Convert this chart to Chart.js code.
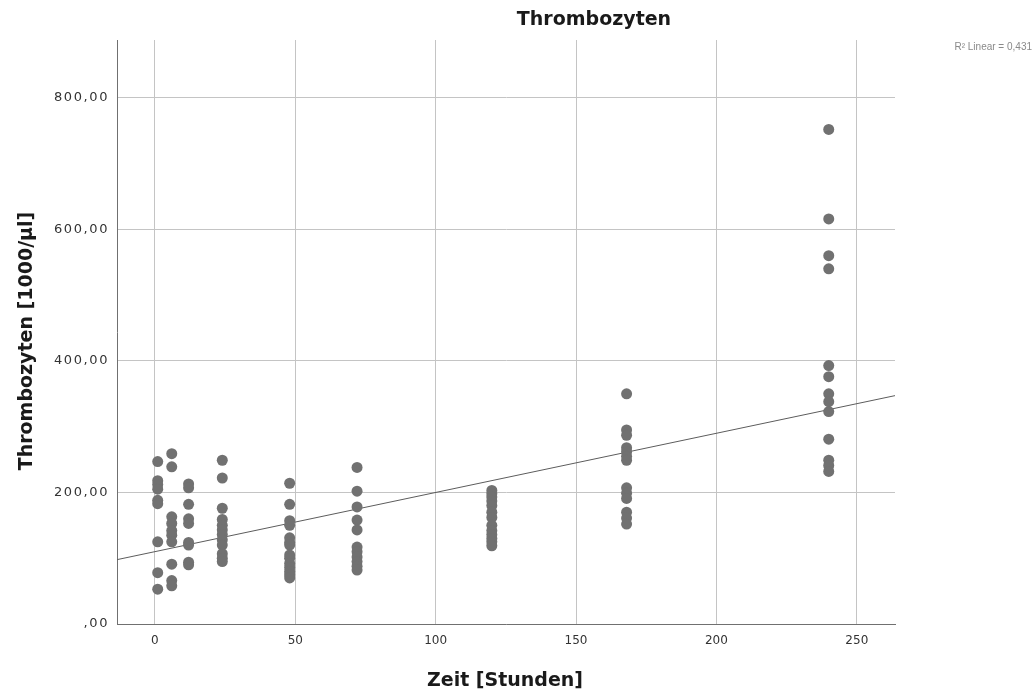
<!DOCTYPE html>
<html>
<head>
<meta charset="utf-8">
<script src="https://cdn.jsdelivr.net/npm/chart.js@4.4.1/dist/chart.umd.min.js"></script>
<style>
  html, body { margin: 0; padding: 0; background: #ffffff; }
  #wrap { width: 1036px; height: 695px; position: relative; }
</style>
</head>
<body>
<div id="wrap"><canvas id="chart" width="1036" height="695"></canvas></div>
<script>
// Sampling times (hours after admission)
const hours = [1, 6, 12, 24, 48, 72, 120, 168, 240];

// Platelet counts [1000/µl] measured at each sampling time
const plateletsAt1h   = [247, 218, 212, 205, 188, 183, 125, 78, 53];
const plateletsAt6h   = [259, 239, 163, 153, 142, 135, 125, 91, 66, 58];
const plateletsAt12h  = [213, 207, 182, 160, 153, 124, 120, 94, 90];
const plateletsAt24h  = [249, 222, 176, 159, 150, 143, 136, 128, 120, 107, 100, 95];
const plateletsAt48h  = [214, 182, 157, 150, 131, 124, 120, 105, 100, 92, 86, 80, 75, 70];
const plateletsAt72h  = [238, 202, 178, 158, 143, 117, 110, 102, 95, 88, 82];
const plateletsAt120h = [203, 198, 193, 187, 180, 170, 162, 150, 142, 136, 130, 125, 119];
const plateletsAt168h = [350, 295, 287, 268, 262, 255, 249, 207, 199, 191, 170, 161, 152];
const plateletsAt240h = [752, 616, 560, 540, 393, 376, 350, 338, 323, 281, 249, 241, 232];

const plateletGroups = [
  plateletsAt1h, plateletsAt6h, plateletsAt12h, plateletsAt24h, plateletsAt48h,
  plateletsAt72h, plateletsAt120h, plateletsAt168h, plateletsAt240h
];

// Linear fit (Thrombozyten = intercept + slope * Zeit)
const fitIntercept = 110;
const fitSlope = 0.9;
const fitLabel = 'R\u00B2 Linear = 0,431';

// Axis ranges and ticks
const xRange = [-13.5, 263.6];
const yRange = [0, 888];
const xTicks = [0, 50, 100, 150, 200, 250];
const xTickLabels = ['0', '50', '100', '150', '200', '250'];
const yTicks = [0, 200, 400, 600, 800];
const yTickLabels = [',00', '200,00', '400,00', '600,00', '800,00'];

const chartTitle = 'Thrombozyten';
const xTitle = 'Zeit [Stunden]';
const yTitle = 'Thrombozyten [1000/\u00B5l]';

const scatterPoints = [];
hours.forEach((h, i) => {
  plateletGroups[i].forEach(v => scatterPoints.push({ x: h, y: v }));
});

const fitPoints = xRange.map(x => ({ x: x, y: fitIntercept + fitSlope * x }));

const boldFont = '"DejaVu Sans", sans-serif';
const tickFont = '"DejaVu Sans", sans-serif';

// Wider letter spacing for the value-axis tick labels
const spacingPlugin = {
  id: 'tickSpacing',
  beforeDraw(chart) {
    const y = chart.scales.y;
    if (y && !y._spaced) {
      const draw = y.drawLabels;
      y.drawLabels = function (area) {
        const ctx = this.ctx;
        ctx.save();
        ctx.letterSpacing = '1.6px';
        draw.call(this, area);
        ctx.restore();
      };
      y._spaced = true;
    }
  }
};

// Titles and fit annotation
const labelsPlugin = {
  id: 'labels',
  afterDraw(chart) {
    const ctx = chart.ctx;
    const area = chart.chartArea;
    ctx.save();
    ctx.letterSpacing = '0px';
    ctx.fillStyle = '#1a1a1a';
    ctx.font = 'bold 19px ' + boldFont;
    ctx.textAlign = 'center';
    ctx.textBaseline = 'middle';
    ctx.fillText(chartTitle, 594, 20);

    ctx.fillText(xTitle, 505, 681);

    ctx.save();
    ctx.translate(27, 341);
    ctx.rotate(-Math.PI / 2);
    ctx.fillText(yTitle, 0, 0);
    ctx.restore();

    ctx.font = '10px "Liberation Sans", sans-serif';
    ctx.fillStyle = '#8a8a8a';
    ctx.textAlign = 'right';
    ctx.fillText(fitLabel, 1032, 47);
    ctx.restore();
  }
};

new Chart(document.getElementById('chart'), {
  type: 'scatter',
  data: {
    datasets: [
      {
        type: 'line',
        data: fitPoints,
        borderColor: '#5c5c5c',
        borderWidth: 1,
        pointRadius: 0,
        fill: false,
        order: 2
      },
      {
        data: scatterPoints,
        backgroundColor: '#717171',
        borderWidth: 0,
        pointRadius: 5.5,
        pointHoverRadius: 5.5,
        order: 1
      }
    ]
  },
  options: {
    responsive: false,
    animation: false,
    layout: { padding: { top: 40, right: 141, bottom: 0, left: 0 } },
    plugins: { legend: { display: false }, tooltip: { enabled: false }, title: { display: false } },
    scales: {
      x: {
        type: 'linear',
        min: xRange[0],
        max: xRange[1],
        afterFit(scale) { scale.height = 71; },
        afterBuildTicks(scale) { scale.ticks = xTicks.map(v => ({ value: v })); },
        ticks: {
          padding: 10,
          color: '#333333',
          font: { family: tickFont, size: 12 },
          callback: (v) => xTickLabels[xTicks.indexOf(v)]
        },
        grid: { color: '#c4c4c4', lineWidth: 1, drawTicks: false },
        border: { color: '#707070', width: 1 }
      },
      y: {
        type: 'linear',
        min: yRange[0],
        max: yRange[1],
        afterFit(scale) { scale.width = 117; },
        afterBuildTicks(scale) { scale.ticks = yTicks.map(v => ({ value: v })); },
        ticks: {
          padding: 8,
          color: '#333333',
          font: { family: tickFont, size: 13 },
          callback: (v) => yTickLabels[yTicks.indexOf(v)]
        },
        grid: { color: '#c4c4c4', lineWidth: 1, drawTicks: false },
        border: { color: '#707070', width: 1 }
      }
    }
  },
  plugins: [spacingPlugin, labelsPlugin]
});
</script>
</body>
</html>
